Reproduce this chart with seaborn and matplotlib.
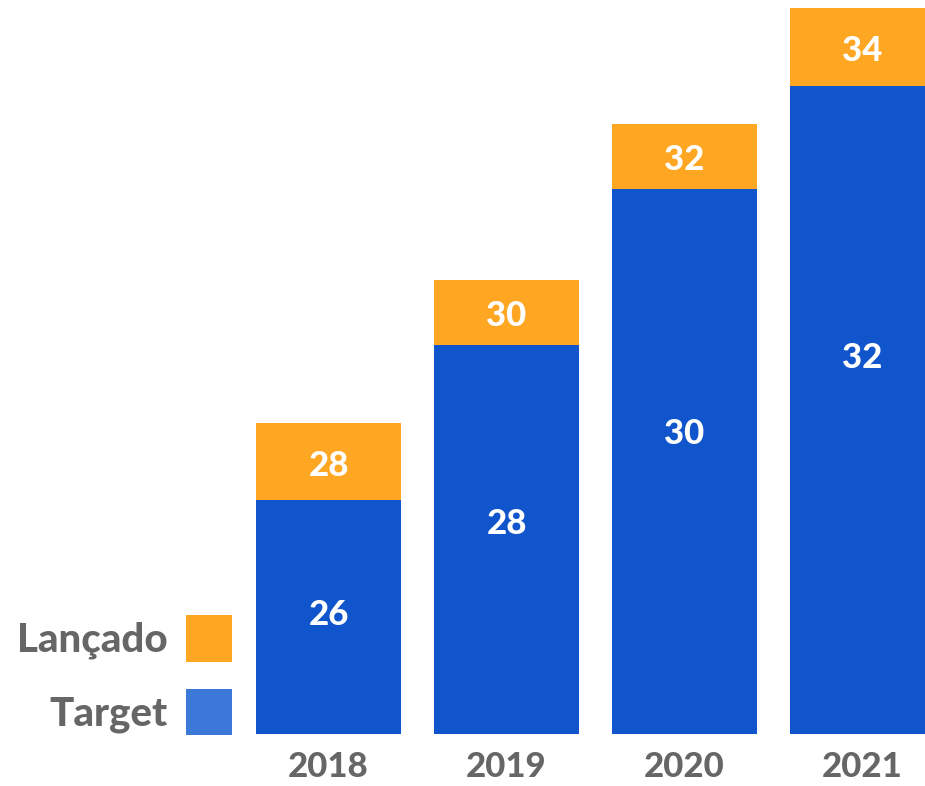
import matplotlib
matplotlib.use("Agg")
import matplotlib.pyplot as plt
import seaborn as sns
import pandas as pd
from matplotlib.patches import Patch

# ---- data ----
years = ["2018", "2019", "2020", "2021"]
target_labels = [26, 28, 30, 32]
lancado_labels = [28, 30, 32, 34]
# apparent bar lengths as drawn in the infographic (arbitrary units)
target_height = [234, 389, 545, 648]
lancado_height = [311, 454, 610, 726]

# ---- style ----
ORANGE = "#FFA623"
BLUE = "#1155CC"
LEGEND_BLUE = "#3C78D8"
GREY = "#666666"
FONT = "Lato"
label_frac = [0.51, 0.54, 0.55, 0.58]   # vertical placement of target labels

sns.set_theme(style="white")
plt.rcParams["font.family"] = [FONT, "DejaVu Sans"]

df = pd.DataFrame({"year": years, "target": target_height, "lancado": lancado_height})

fig = plt.figure(figsize=(9.25, 7.86), dpi=100)
ax = fig.add_axes([0, 0, 1, 1])

sns.barplot(data=df, x="year", y="lancado", color=ORANGE, width=0.815,
            saturation=1, linewidth=0, edgecolor="none", ax=ax)
sns.barplot(data=df, x="year", y="target", color=BLUE, width=0.815,
            saturation=1, linewidth=0, edgecolor="none", ax=ax)

ax.set_xlim(-1.846, 3.351)
ax.set_ylim(-52, 734)
ax.axis("off")

for i, y in enumerate(years):
    t, l = target_height[i], lancado_height[i]
    ax.text(i, t * label_frac[i], str(target_labels[i]), ha="center", va="center",
            color="white", fontsize=25, fontweight=900)
    ax.text(i, (t + l) / 2 - 4, str(lancado_labels[i]), ha="center", va="center",
            color="white", fontsize=25, fontweight=900)
    ax.text(i, -33, y, ha="center", va="center", color=GREY,
            fontsize=25, fontweight=900)

handles = [Patch(facecolor=ORANGE, edgecolor="none"),
           Patch(facecolor=LEGEND_BLUE, edgecolor="none")]
leg = fig.legend(handles, ["Lançado", "Target"], loc="upper right",
                 bbox_to_anchor=(232 / 925, 1 - 615 / 786), markerfirst=False,
                 frameon=False, borderaxespad=0, borderpad=0,
                 handlelength=1.14, handleheight=1.4, handletextpad=0.45,
                 labelspacing=0.68,
                 prop={"family": FONT, "weight": 900, "size": 29})
for txt in leg.get_texts():
    txt.set_color(GREY)

fig.savefig("out.png", dpi=100)
